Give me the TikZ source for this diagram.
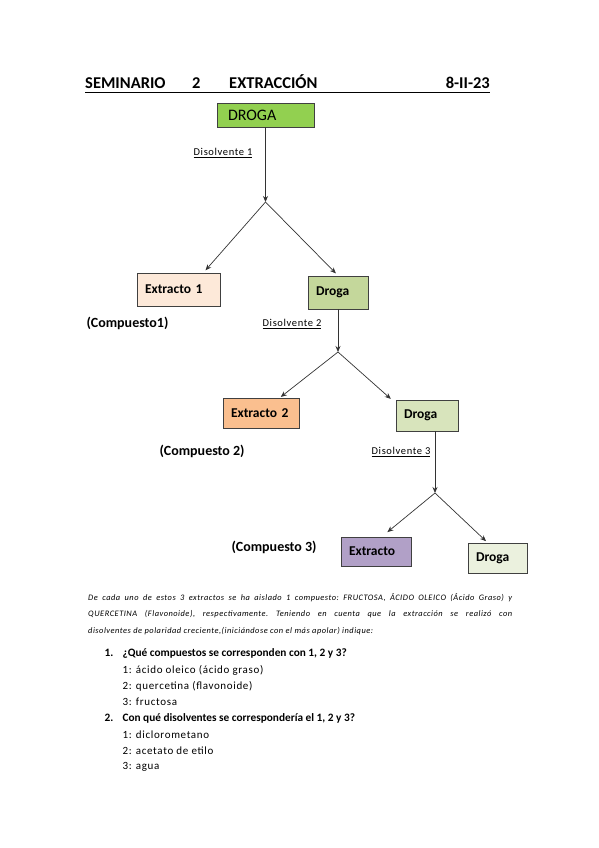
\documentclass[tikz,border=0pt]{standalone}
\usepackage{fontspec}
\setmainfont{Carlito}
\newfontfamily\widefont[LetterSpace=6]{Carlito}
\usetikzlibrary{arrows.meta}
\definecolor{drogagreen}{HTML}{92D050}
\definecolor{olive1}{HTML}{C4D79B}
\definecolor{olive2}{HTML}{D8E4BC}
\definecolor{olive3}{HTML}{EBF1DE}
\definecolor{peach1}{HTML}{FDE9D9}
\definecolor{peach2}{HTML}{FABF8F}
\definecolor{lilac}{HTML}{B1A0C7}
\tikzset{
  box/.style={draw=black!75, line width=0.9pt, inner xsep=8pt, inner ysep=0pt, align=left,
    font=\fontsize{13.5}{15}\selectfont\bfseries},
  solv/.style={font=\widefont\fontsize{10.5}{12}\selectfont, anchor=east},
  comp/.style={font=\fontsize{14}{16}\selectfont\bfseries, anchor=west},
  flow/.style={-{Stealth[length=6pt,width=5pt]}, line width=0.7pt, black!80},
  qline/.style={font=\fontsize{11.3}{13}\selectfont\bfseries, anchor=west},
  aline/.style={font=\widefont\fontsize{11}{13}\selectfont, anchor=west}
}
\begin{document}
\begin{tikzpicture}[x=1pt, y=-1pt]
    \useasboundingbox (0,0) rectangle (599,848);

    % Title
    \node [anchor=base west, inner sep=0pt, font=\fontsize{16.5}{18}\selectfont\bfseries] (tsem) at (85,89) {SEMINARIO};
    \node [anchor=base west, inner sep=0pt, font=\fontsize{16.5}{18}\selectfont\bfseries] (tnum) at (192,89) {2};
    \node [anchor=base west, inner sep=0pt, font=\fontsize{16.5}{18}\selectfont\bfseries] (text) at (229,89) {EXTRACCIÓN};
    \node [anchor=base east, inner sep=0pt, font=\fontsize{16.5}{18}\selectfont\bfseries] (tdate) at (490,89) {8-II-23};
    \draw [line width=1.1pt] (85,92.5) -- (490,92.5);

    % First extraction
    \node [box, fill=drogagreen, text width=75pt, inner xsep=11pt, minimum height=24pt, font=\fontsize{16}{18}\selectfont] (droga0) at (265.5,115) {DROGA};
    \coordinate (j1) at (265.5,202);
    \node [solv] (solv1) at (256,153) {\underline{Disolvente 1}};
    \draw [flow] (droga0) -- (j1);
    \node [box, fill=peach1, text width=67pt, minimum height=33pt] (ext1) at (178.5,289.5) {Extracto 1};
    \node [box, fill=olive1, text width=44pt, minimum height=33pt] (droga1) at (338,292.5) {Droga};
    \draw [flow, shorten >=3pt] (j1) -- ([xshift=25pt]ext1.north);
    \draw [flow, shorten >=3pt] (j1) -- (droga1.north);
    \node [comp] (comp1) at (83,323) {(Compuesto1)};

    % Second extraction
    \coordinate (j2) at (338,352);
    \node [solv] (solv2) at (325,324) {\underline{Disolvente 2}};
    \draw [flow] (droga1) -- (j2);
    \node [box, fill=peach2, text width=60pt, minimum height=30pt] (ext2) at (261,413) {Extracto 2};
    \node [box, fill=olive2, text width=46pt, minimum height=31pt] (droga2) at (427,415.5) {Droga};
    \draw [flow, shorten >=1pt] (j2) -- ([xshift=19pt]ext2.north);
    \draw [flow, shorten >=1pt] (j2) -- ([xshift=-4pt]droga2.north west);
    \node [comp] (comp2) at (156,451) {(Compuesto 2)};

    % Third extraction
    \coordinate (j3) at (435,493);
    \node [solv] (solv3) at (434,452) {\underline{Disolvente 3}};
    \draw [flow] ([xshift=8pt]droga2.south) -- (j3);
    \node [box, fill=lilac, text width=54pt, minimum height=29pt] (ext3) at (376,551.5) {Extracto};
    \node [box, fill=olive3, text width=43pt, minimum height=30pt] (droga3) at (497.5,558) {Droga};
    \draw [flow, shorten >=7pt] (j3) -- ([xshift=6pt]ext3.north);
    \draw [flow, shorten >=2pt] (j3) -- ([xshift=-10pt]droga3.north);
    \node [comp] (comp3) at (228,547) {(Compuesto 3)};

    % Statement
    \node [anchor=north west, inner sep=0pt, text width=424pt, align=justify,
           font=\widefont\fontsize{8.4}{16.5}\selectfont\itshape\frenchspacing] (stmt) at (88,593) {De cada uno de estos 3 extractos se ha aislado 1 compuesto: FRUCTOSA, ÁCIDO OLEICO (Ácido Graso) y\linebreak QUERCETINA (Flavonoide), respectivamente. Teniendo en cuenta que la extracción se realizó con\linebreak disolventes de polaridad creciente,(iniciándose con el más apolar) indique:};

    % Questions
    \node [qline] (q1num) at (101,653) {1.};
    \node [qline] (q1) at (119,653) {¿Qué compuestos se corresponden con 1, 2 y 3?};
    \node [aline] (a11) at (119,670) {1: ácido oleico (ácido graso)};
    \node [aline] (a12) at (119,686) {2: quercetina (flavonoide)};
    \node [aline] (a13) at (119,702) {3: fructosa};
    \node [qline] (q2num) at (101,718) {2.};
    \node [qline] (q2) at (119,718) {Con qué disolventes se correspondería el 1, 2 y 3?};
    \node [aline] (a21) at (119,735) {1: diclorometano};
    \node [aline] (a22) at (119,751) {2: acetato de etilo};
    \node [aline] (a23) at (119,767) {3: agua};
\end{tikzpicture}
\end{document}
